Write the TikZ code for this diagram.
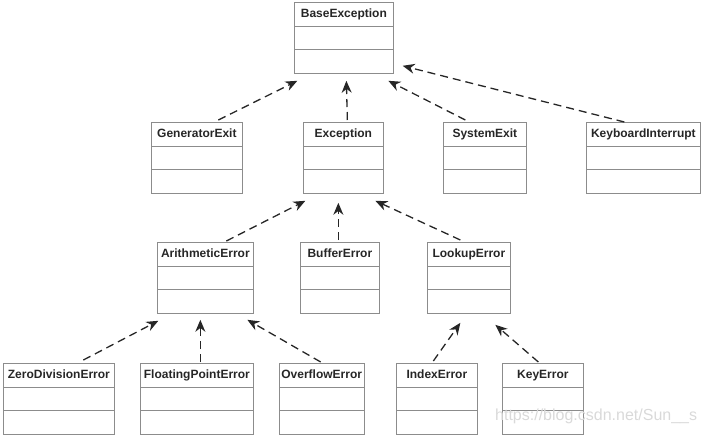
\documentclass[tikz,border=0pt]{standalone}
\usepackage{fontspec}
\setmainfont{Liberation Sans}
\usepackage{tikz}
\usetikzlibrary{arrows.meta, shapes.multipart}

\begin{document}
\begin{tikzpicture}[x=1pt, y=-1pt, >=Stealth,
    cls/.style={rectangle split, rectangle split parts=3, draw=black!45, line width=0.7pt,
      anchor=north west, inner xsep=2pt, inner ysep=5.5pt,
      rectangle split empty part height=7pt, rectangle split empty part depth=0pt,
      font=\fontsize{12}{14}\selectfont\bfseries, text=black!85,
      execute at begin node=\rule[-3pt]{0pt}{12pt}},
    inh/.style={->, black!85, line width=1.3pt, dash pattern=on 8pt off 5pt,
      arrows={-Stealth[length=12pt, width=10pt]}}]
  \useasboundingbox (0,0) rectangle (704,434);
  % Class boxes
  \node[cls, minimum width=99pt]  (base) at (294,2)   {BaseException \nodepart{two} \nodepart{three}};
  \node[cls, minimum width=91pt]  (gen)  at (151,122) {GeneratorExit \nodepart{two} \nodepart{three}};
  \node[cls, minimum width=80pt]  (exc)  at (303,122) {Exception \nodepart{two} \nodepart{three}};
  \node[cls, minimum width=83pt]  (sys)  at (443,122) {SystemExit \nodepart{two} \nodepart{three}};
  \node[cls, minimum width=114pt] (kbd)  at (586,122) {KeyboardInterrupt \nodepart{two} \nodepart{three}};
  \node[cls, minimum width=96pt]  (ari)  at (157,242) {ArithmeticError \nodepart{two} \nodepart{three}};
  \node[cls, minimum width=79pt]  (buf)  at (300,242) {BufferError \nodepart{two} \nodepart{three}};
  \node[cls, minimum width=83pt]  (look) at (427,242) {LookupError \nodepart{two} \nodepart{three}};
  \node[cls, minimum width=111pt] (zero) at (3,363)   {ZeroDivisionError \nodepart{two} \nodepart{three}};
  \node[cls, minimum width=113pt] (flt)  at (140,363) {FloatingPointError \nodepart{two} \nodepart{three}};
  \node[cls, minimum width=80pt]  (ovf)  at (279,363) {OverflowError \nodepart{two} \nodepart{three}};
  \node[cls, minimum width=81pt]  (idx)  at (396,363) {IndexError \nodepart{two} \nodepart{three}};
  \node[cls, minimum width=81pt]  (key)  at (502,363) {KeyError \nodepart{two} \nodepart{three}};
  % Inheritance arrows
  \draw[inh] ([xshift=21.5pt,yshift=2pt]gen.north) -- ([xshift=-46.5pt,yshift=-7pt]base.south);
  \draw[inh] ([xshift=4pt,yshift=2pt]exc.north) -- ([xshift=2.5pt,yshift=-7pt]base.south);
  \draw[inh] ([xshift=-19.5pt,yshift=2pt]sys.north) -- ([xshift=44.5pt,yshift=-7pt]base.south);
  \draw[inh] ([xshift=-19pt]kbd.north) -- ([xshift=9pt,yshift=8pt]base.south east);
  \draw[inh] ([xshift=21pt,yshift=1pt]ari.north) -- ([xshift=-38pt,yshift=-7pt]exc.south);
  \draw[inh] ([xshift=-1.5pt,yshift=2pt]buf.north) -- ([xshift=-5pt,yshift=-9pt]exc.south);
  \draw[inh] ([xshift=-8.5pt,yshift=2pt]look.north) -- ([xshift=32pt,yshift=-7pt]exc.south);
  \draw[inh] ([xshift=24.5pt,yshift=3pt]zero.north) -- ([xshift=-47pt,yshift=-7pt]ari.south);
  \draw[inh] ([xshift=3.5pt,yshift=1pt]flt.north) -- ([xshift=-5pt,yshift=-6pt]ari.south);
  \draw[inh] ([xshift=-1pt,yshift=1pt]ovf.north) -- ([xshift=42pt,yshift=-6pt]ari.south);
  \draw[inh] ([xshift=-3.5pt,yshift=2pt]idx.north) -- ([xshift=-8.5pt,yshift=-9pt]look.south);
  \draw[inh] ([xshift=-4.5pt,yshift=1pt]key.north) -- ([xshift=26.5pt,yshift=-11pt]look.south);
  % watermark
  \node[anchor=base west, text=black!15, font=\fontsize{16}{18}\selectfont, inner sep=0pt] (wm) at (495,420) {https://blog.csdn.net/Sun\_\_s};
\end{tikzpicture}
\end{document}
